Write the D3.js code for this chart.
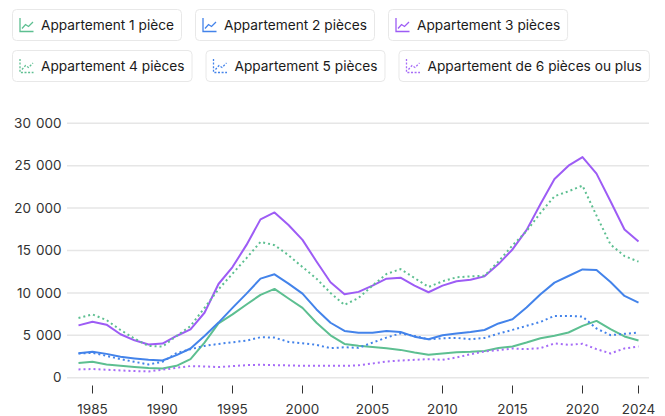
<!DOCTYPE html>
<html>
<head>
<meta charset="utf-8">
<script src="https://cdn.jsdelivr.net/npm/d3@7"></script>
<style>
  html, body { margin: 0; padding: 0; background: #fff; }
  svg { display: block; font-family: Inter, "Noto Sans", sans-serif; }
</style>
</head>
<body>
<div id="chart"></div>
<script>
(function(){
// Years 1984 to 2024
const years = d3.range(1984, 2025);

const seriesNames = [
  "Appartement 1 pièce",
  "Appartement 2 pièces",
  "Appartement 3 pièces",
  "Appartement 4 pièces",
  "Appartement 5 pièces",
  "Appartement de 6 pièces ou plus"
];

const p1 = [1720, 1875, 1560, 1400, 1250, 1130, 1090, 1400, 2190, 4140, 6400,
  7460, 8630, 9770, 10470, 9340, 8240, 6480, 5000, 3980, 3770,
  3630, 3480, 3280, 2970, 2700, 2850, 3010, 3050, 3160, 3500,
  3680, 4150, 4660, 4940, 5330, 6110, 6700, 5720, 4860, 4390];

const p2 = [2890, 3050, 2810, 2460, 2270, 2110, 2030, 2660, 3440, 4920, 6500,
  8240, 9920, 11680, 12190, 11090, 9920, 8050, 6480, 5510, 5290,
  5310, 5510, 5390, 4840, 4530, 5000, 5200, 5390, 5625, 6400,
  6900, 8270, 9840, 11210, 11990, 12770, 12700, 11290, 9640, 8860];

const p3 = [6170, 6600, 6250, 5120, 4410, 3910, 4020, 4920, 5700, 7660, 11050,
  13050, 15660, 18670, 19490, 18000, 16250, 13710, 11250, 9840, 10120,
  10860, 11680, 11800, 10860, 10080, 10860, 11370, 11560, 11950, 13400,
  15125, 17400, 20490, 23430, 25000, 26020, 24060, 20800, 17480, 16070];

const p4 = [7030, 7460, 6800, 5625, 4610, 3750, 3670, 4920, 6090, 8240, 10420,
  12270, 14100, 16020, 15630, 14450, 13050, 11680, 10000, 8590, 9400,
  10860, 12230, 12810, 11760, 10700, 11370, 11840, 11950, 12030, 13700,
  15600, 17280, 19440, 21400, 21980, 22650, 19120, 15710, 14340, 13680];

const p5 = [2850, 2930, 2580, 2190, 1875, 1560, 1875, 2890, 3360, 3750, 3980,
  4180, 4375, 4770, 4730, 4220, 4060, 3870, 3480, 3590, 3520,
  4140, 4730, 5230, 4920, 4530, 4650, 4690, 4530, 4690, 5200,
  5640, 6110, 6580, 7290, 7290, 7210, 5800, 5020, 5170, 5330];

const p6 = [980, 1020, 940, 860, 780, 740, 940, 1170, 1370, 1330, 1250,
  1370, 1480, 1520, 1480, 1450, 1400, 1400, 1400, 1400, 1460,
  1680, 1910, 2030, 2110, 2190, 2110, 2380, 2770, 3090, 3250,
  3450, 3370, 3490, 4040, 3880, 4000, 3370, 2860, 3450, 3680];

const yTicks = [0, 5000, 10000, 15000, 20000, 25000, 30000];
const xTicks = [1985, 1990, 1995, 2000, 2005, 2010, 2015, 2020, 2024];

const colors = ["#5dbf91", "#4383ea", "#9d5cf5", "#5dbf91", "#4383ea", "#a66cf7"];
const dashed = [false, false, false, true, true, true];

const series = [p1, p2, p3, p4, p5, p6].map((vals, i) => ({
  name: seriesNames[i],
  color: colors[i],
  dashed: dashed[i],
  values: vals.map((v, j) => ({ year: years[j], value: v }))
}));

const width = 665, height = 416;

const svg = d3.select("#chart")
  .append("svg")
  .attr("width", width)
  .attr("height", height);

// Scales
const x = d3.scaleLinear()
  .domain([1984, 2024])
  .range([78.5, 638.5]);

const y = d3.scaleLinear()
  .domain([0, 30000])
  .range([377.7, 123.3]);

// thousands separated by a space (slightly widened)
const fmt = d3.formatLocale({ decimal: ",", thousands: " \u200A", grouping: [3], currency: ["", " €"] }).format(",");

// Gridlines + y labels
const grid = svg.append("g");
grid.selectAll("line")
  .data(yTicks)
  .enter()
  .append("line")
  .attr("x1", 67)
  .attr("x2", 649)
  .attr("y1", d => y(d))
  .attr("y2", d => y(d))
  .attr("stroke", "#e6e6e6")
  .attr("stroke-width", 1.5);

grid.selectAll("text")
  .data(yTicks)
  .enter()
  .append("text")
  .attr("x", 61.5)
  .attr("y", d => y(d))
  .attr("dy", "0.35em")
  .attr("text-anchor", "end")
  .attr("font-size", 13.5)
  .attr("fill", "#333")
  .text(d => fmt(d));

// X axis ticks + labels
const xa = svg.append("g");
xa.selectAll("line")
  .data(xTicks)
  .enter()
  .append("line")
  .attr("x1", d => x(d))
  .attr("x2", d => x(d))
  .attr("y1", 385.5)
  .attr("y2", 393.5)
  .attr("stroke", "#333")
  .attr("stroke-width", 1);

xa.selectAll("text")
  .data(xTicks)
  .enter()
  .append("text")
  .attr("x", d => x(d))
  .attr("y", 409)
  .attr("dy", "0.35em")
  .attr("text-anchor", "middle")
  .attr("font-size", 13.5)
  .attr("fill", "#333")
  .text(d => d);

// Lines
const line = d3.line()
  .x(d => x(d.year))
  .y(d => y(d.value));

svg.append("g")
  .selectAll("path")
  .data(series)
  .enter()
  .append("path")
  .attr("d", d => line(d.values))
  .attr("fill", "none")
  .attr("stroke", d => d.color)
  .attr("stroke-width", 2)
  .attr("stroke-linejoin", "round")
  .attr("stroke-dasharray", d => d.dashed ? "2,3" : null);

// Legend
const rows = [[0, 1, 2], [3, 4, 5]];
const rowY = [9.5, 50.5];
const boxH = 31;
const legend = svg.append("g");

rows.forEach((row, ri) => {
  let cx = 12.5;
  row.forEach(si => {
    const s = series[si];
    const g = legend.append("g").attr("transform", `translate(${cx},${rowY[ri]})`);
    const rect = g.append("rect")
      .attr("y", 0)
      .attr("height", boxH)
      .attr("rx", 4)
      .attr("fill", "#fff")
      .attr("stroke", "#e8e8e8")
      .attr("stroke-width", 1);
    // icon
    const ic = g.append("g")
      .attr("transform", "translate(7,8.5)")
      .attr("fill", "none")
      .attr("stroke", s.color)
      .attr("stroke-width", 1.3)
      .attr("stroke-dasharray", s.dashed ? "2,1.6" : null);
    ic.append("path").attr("d", "M0.5,0 V13.5 H14");
    ic.append("path").attr("d", "M2.5,10.5 L6,6.5 L9,8.5 L13.5,4");
    const t = g.append("text")
      .attr("x", 28.5)
      .attr("y", boxH / 2)
      .attr("dy", "0.35em")
      .attr("font-size", 13.7)
      .attr("fill", "#1a1a1a")
      .text(s.name);
    const w = 28.5 + t.node().getComputedTextLength() + 7.5;
    rect.attr("width", w);
    cx += w + 14;
  });
});
})();
</script>
</body>
</html>
